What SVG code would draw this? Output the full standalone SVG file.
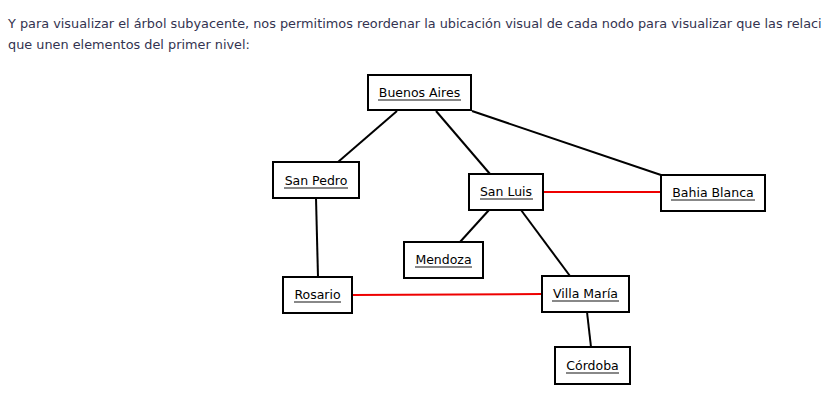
<svg xmlns="http://www.w3.org/2000/svg" width="825" height="403" viewBox="0 0 825 403">
<style>
.para{font-family:"DejaVu Sans",sans-serif;font-size:12.85px;fill:#333350}
.box{fill:#fff;stroke:#000;stroke-width:2}
.lbl{font-family:"DejaVu Sans",sans-serif;font-size:12.5px;fill:#000;text-anchor:middle}
.ul{stroke:#888;stroke-width:2}
.e{stroke:#000;stroke-width:2;fill:none}
.r{stroke:#e00;stroke-width:2;fill:none}
</style>
<rect width="825" height="403" fill="#fff"/>
<text class="para" x="8" y="28">Y para visualizar el árbol subyacente, nos permitimos reordenar la ubicación visual de cada nodo para visualizar que las relaci</text>
<text class="para" x="8" y="49">que unen elementos del primer nivel:</text>
<g id="connectors">
<line class="e" x1="397" y1="111" x2="338" y2="162"/>
<line class="e" x1="436" y1="111" x2="490" y2="174"/>
<line class="e" x1="472" y1="111" x2="661" y2="175"/>
<line class="e" x1="316" y1="198" x2="318" y2="277"/>
<line class="r" x1="543" y1="192" x2="661" y2="192"/>
<line class="e" x1="489" y1="210" x2="460" y2="242"/>
<line class="e" x1="521" y1="210" x2="570" y2="276"/>
<line class="r" x1="352" y1="295" x2="542" y2="294"/>
<line class="e" x1="587" y1="312" x2="591" y2="347"/>
</g>
<g id="buenos-aires"><rect class="box" x="368" y="75" width="103" height="35"/><text class="lbl" x="419.5" y="97">Buenos Aires</text><line class="ul" x1="378" y1="100" x2="461" y2="100"/></g>
<g id="san-pedro"><rect class="box" x="273" y="162" width="86" height="36"/><text class="lbl" x="316" y="185">San Pedro</text><line class="ul" x1="284" y1="188" x2="348" y2="188"/></g>
<g id="san-luis"><rect class="box" x="469" y="174" width="74" height="36"/><text class="lbl" x="506" y="196">San Luis</text><line class="ul" x1="480" y1="199" x2="533" y2="199"/></g>
<g id="bahia-blanca"><rect class="box" x="661" y="175" width="104" height="36"/><text class="lbl" x="713" y="197">Bahia Blanca</text><line class="ul" x1="671" y1="200" x2="755" y2="200"/></g>
<g id="mendoza"><rect class="box" x="404" y="242" width="79" height="36"/><text class="lbl" x="443.5" y="264">Mendoza</text><line class="ul" x1="415" y1="267" x2="472" y2="267"/></g>
<g id="rosario"><rect class="box" x="283" y="277" width="69" height="36"/><text class="lbl" x="317.5" y="299">Rosario</text><line class="ul" x1="294" y1="302" x2="341" y2="302"/></g>
<g id="villa-maria"><rect class="box" x="542" y="276" width="87" height="36"/><text class="lbl" x="585.5" y="298">Villa María</text><line class="ul" x1="552" y1="301" x2="619" y2="301"/></g>
<g id="cordoba"><rect class="box" x="555" y="347" width="75" height="37"/><text class="lbl" x="592.5" y="370">Córdoba</text><line class="ul" x1="566" y1="373" x2="619" y2="373"/></g>
</svg>
